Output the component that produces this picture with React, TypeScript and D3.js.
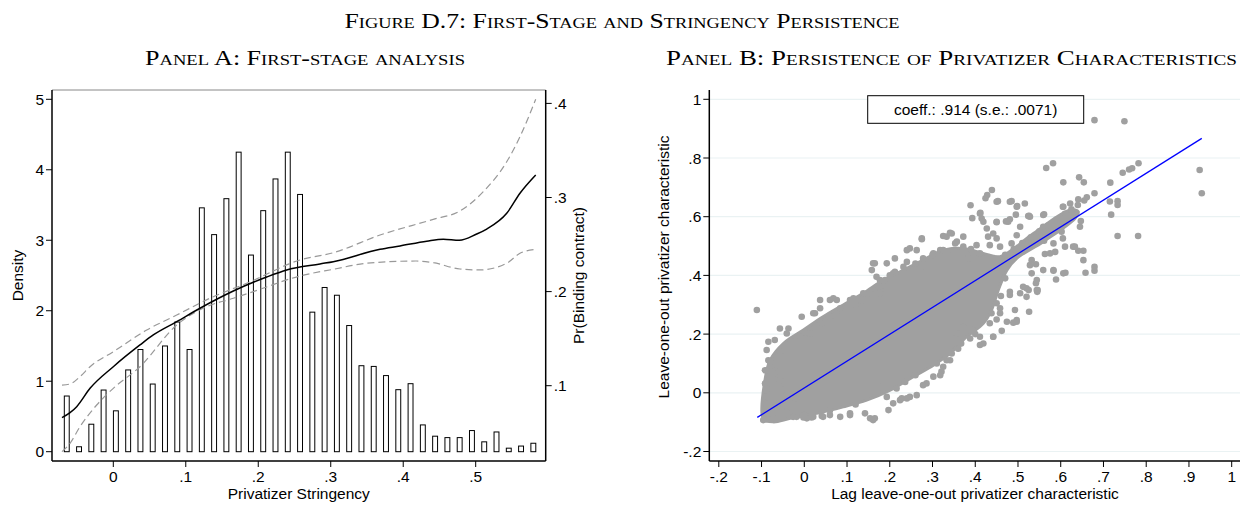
import React from "react";
import * as d3 from "d3";

// ---------- Panel A data ----------
const binStart = -0.0642;
const binStep = 0.01694;
const densityValues = [
  0.79, 0.07, 0.39, 0.875, 0.58, 1.16, 1.45, 0.96, 1.5, 1.84, 1.45, 3.46, 3.08,
  3.59, 4.25, 2.79, 3.42, 3.87, 4.25, 3.65, 1.98, 2.33, 2.22, 1.79, 1.22, 1.21,
  1.08, 0.88, 0.965, 0.38, 0.22, 0.2, 0.2, 0.3, 0.14, 0.28, 0.05, 0.08, 0.12,
];
const binCenters = densityValues.map((_, i) => binStart + i * binStep);

const fitPoints: [number, number][] = [
  [-0.0708, 0.066], [-0.0597, 0.0713], [-0.0505, 0.0777], [-0.0321, 0.0972],
  [0, 0.1202], [0.0368, 0.1433], [0.0552, 0.1539], [0.0875, 0.168],
  [0.1196, 0.1823], [0.1656, 0.2006], [0.2116, 0.2155], [0.2392, 0.223],
  [0.2852, 0.2294], [0.3035, 0.2318], [0.368, 0.245], [0.3956, 0.2485],
  [0.4324, 0.2535], [0.4553, 0.2556], [0.4774, 0.2545], [0.5014, 0.2612],
  [0.5152, 0.2665], [0.5428, 0.2832], [0.5611, 0.3045], [0.5828, 0.3239],
];
const upperCI: [number, number][] = [
  [-0.0708, 0.1007], [-0.0597, 0.1018], [-0.046, 0.1096], [-0.0321, 0.1202],
  [0, 0.1361], [0.0461, 0.1592], [0.0875, 0.1751], [0.138, 0.1946],
  [0.184, 0.2088], [0.2576, 0.2336], [0.3035, 0.2413], [0.368, 0.2601],
  [0.4415, 0.2768], [0.4783, 0.2857], [0.5105, 0.3062], [0.5428, 0.338],
  [0.5611, 0.3646], [0.5828, 0.4044],
];
const lowerCI: [number, number][] = [
  [-0.0708, 0.0299], [-0.0597, 0.0388], [-0.046, 0.0564], [-0.0229, 0.0795],
  [0, 0.0972], [0.0368, 0.1202], [0.0875, 0.1645], [0.1289, 0.184],
  [0.1656, 0.1929], [0.1932, 0.2], [0.2576, 0.2166], [0.3035, 0.2237],
  [0.3494, 0.2301], [0.4184, 0.2325], [0.4415, 0.2307], [0.4783, 0.224],
  [0.5059, 0.223], [0.5428, 0.2301], [0.5611, 0.2407], [0.5828, 0.2449],
];
const aXTicks = [0, 0.1, 0.2, 0.3, 0.4, 0.5];
const aXTickLabels = ["0", ".1", ".2", ".3", ".4", ".5"];
const aYTicks = [0, 1, 2, 3, 4, 5];
const aYTickLabels = ["0", "1", "2", "3", "4", "5"];
const aY2Ticks = [0.1, 0.2, 0.3, 0.4];
const aY2TickLabels = [".1", ".2", ".3", ".4"];

// ---------- Panel B data ----------
const regIntercept = 0.0167;
const regSlope = 0.914;
const regXRange = [-0.11, 0.93];
const bXTicks = [-0.2, -0.1, 0, 0.1, 0.2, 0.3, 0.4, 0.5, 0.6, 0.7, 0.8, 0.9, 1];
const bXTickLabels = ["-.2", "-.1", "0", ".1", ".2", ".3", ".4", ".5", ".6", ".7", ".8", ".9", "1"];
const bYTicks = [-0.2, 0, 0.2, 0.4, 0.6, 0.8, 1];
const bYTickLabels = ["-.2", "0", ".2", ".4", ".6", ".8", "1"];

// dense core of the scatter cloud (outline)
const coreOutline: [number, number][] = [
  [-0.096, -0.087], [-0.092, 0.043], [-0.08, 0.111], [-0.049, 0.168],
  [-0.002, 0.214], [0.044, 0.259], [0.091, 0.299], [0.138, 0.339],
  [0.185, 0.384], [0.232, 0.418], [0.278, 0.452], [0.325, 0.486],
  [0.372, 0.492], [0.419, 0.475], [0.458, 0.464], [0.536, 0.543],
  [0.622, 0.623], [0.641, 0.617], [0.633, 0.594], [0.559, 0.515],
  [0.497, 0.458], [0.474, 0.418], [0.454, 0.35], [0.438, 0.282],
  [0.419, 0.237], [0.38, 0.191], [0.341, 0.134], [0.302, 0.094],
  [0.255, 0.055], [0.201, 0.009], [0.146, -0.025], [0.091, -0.048],
  [0.029, -0.07], [-0.033, -0.087], [-0.073, -0.099],
];

const scatterPoints: [number, number][] = [
  [0.679, 0.929], [0.749, 0.925], [0.566, 0.766], [0.582, 0.782], [0.745, 0.75],
  [0.76, 0.761], [0.767, 0.765], [0.782, 0.782], [0.925, 0.759], [0.93, 0.68],
  [0.606, 0.717], [0.643, 0.734], [0.654, 0.717], [0.716, 0.716], [0.679, 0.68],
  [0.715, 0.652], [0.733, 0.653], [0.733, 0.64], [0.718, 0.607], [0.733, 0.534],
  [0.781, 0.534], [0.439, 0.691], [0.428, 0.674], [0.424, 0.663], [0.389, 0.639],
  [0.453, 0.653], [0.485, 0.653], [0.498, 0.636], [0.516, 0.645], [0.561, 0.608],
  [0.526, 0.603], [0.495, 0.607], [0.412, 0.613], [0.393, 0.595], [0.415, 0.594],
  [0.45, 0.581], [0.472, 0.584], [0.481, 0.591], [0.505, 0.566], [0.605, 0.634],
  [0.622, 0.645], [0.641, 0.659], [0.661, 0.666], [0.559, 0.566], [0.583, 0.583],
  [0.645, 0.566], [0.647, 0.585], [0.602, 0.549], [0.605, 0.526], [0.561, 0.518],
  [0.583, 0.509], [0.587, 0.48], [0.563, 0.473], [0.629, 0.498], [0.641, 0.484],
  [0.653, 0.484], [0.653, 0.452], [0.658, 0.409], [0.679, 0.416], [0.679, 0.429],
  [0.611, 0.409], [0.589, 0.386], [0.583, 0.416], [0.559, 0.418], [0.542, 0.438],
  [0.532, 0.452], [0.528, 0.435], [0.542, 0.373], [0.546, 0.35], [0.52, 0.356],
  [0.47, 0.47], [0.49, 0.49], [0.51, 0.51], [0.53, 0.53], [0.55, 0.55],
  [0.57, 0.57], [0.59, 0.59], [0.61, 0.61], [0.625, 0.625], [0.64, 0.64], [0.655, 0.655],
  [0.512, 0.361], [0.525, 0.35], [0.545, 0.344], [0.526, 0.276], [0.497, 0.248],
  [0.489, 0.239], [0.462, 0.211], [0.442, 0.191], [0.419, 0.168], [0.411, 0.163],
  [0.367, 0.168], [0.341, 0.111], [0.325, 0.089], [0.318, 0.06], [0.302, 0.055],
  [0.481, 0.344], [0.52, 0.327], [0.458, 0.288], [0.438, 0.271], [0.434, 0.237],
  [0.395, 0.214], [0.388, 0.185],
  [-0.111, 0.282], [-0.084, 0.174], [-0.069, 0.18], [-0.088, 0.146], [-0.084, 0.111],
  [-0.088, 0.077], [-0.087, 0.015], [-0.076, 0.094], [-0.061, 0.072], [-0.057, 0.043],
  [-0.049, 0.009], [-0.041, -0.008], [-0.022, -0.019], [-0.018, -0.082], [0.006, -0.087],
  [0.021, -0.082], [0.041, -0.079], [0.06, -0.076], [0.084, -0.082], [0.107, -0.076],
  [0.154, -0.087], [0.161, -0.093], [0.193, -0.014], [0.224, -0.025], [0.24, -0.019],
  [0.263, -0.008], [0.286, 0.032], [0.333, 0.111], [-0.096, -0.093], [-0.088, -0.091],
  [-0.073, -0.087], [-0.041, -0.065], [-0.057, 0.219], [-0.041, 0.202], [-0.01, 0.191],
  [0.006, 0.202], [-0.006, 0.259], [0.021, 0.271], [0.037, 0.288], [0.06, 0.316],
  [0.076, 0.316], [0.084, 0.282], [0.115, 0.322], [0.13, 0.316], [0.154, 0.339],
  [0.177, 0.361],
  [0.161, 0.441], [0.193, 0.441], [0.247, 0.492], [0.275, 0.526], [0.302, 0.475],
  [0.318, 0.486], [0.333, 0.532], [0.345, 0.543], [0.177, 0.384], [0.208, 0.407],
  [0.232, 0.429], [0.325, 0.534], [0.341, 0.545], [0.372, 0.532], [0.353, 0.509],
  [0.325, 0.486], [0.372, 0.498], [0.403, 0.503], [0.411, 0.475], [0.43, 0.532],
  [0.442, 0.543], [0.458, 0.498], [0.384, 0.458], [0.427, 0.56], [0.45, 0.526],
  [0.485, 0.509], [0.497, 0.537], [0.528, 0.6],
  [0.45, 0.651], [0.411, 0.611], [0.419, 0.583], [0.45, 0.583], [0.481, 0.651],
  [0.497, 0.634], [0.524, 0.602], [0.477, 0.583], [0.559, 0.606], [0.606, 0.634],
  [0.275, 0.523], [0.24, 0.486], [0.263, 0.486], [0.357, 0.515], [0.349, 0.486],
  [0.434, 0.503], [0.212, 0.458], [0.165, 0.441], [0.158, 0.418], [0.169, 0.395],
  [0.189, 0.384], [0.212, 0.412], [0.24, 0.446], [0.278, 0.458], [0.286, 0.429],
  [0.107, 0.316], [0.138, 0.339], [0.142, 0.316], [0.177, 0.339], [0.037, 0.316],
  [0.068, 0.322], [0.025, 0.271], [0.06, 0.259], [0.084, 0.288], [-0.037, 0.219],
  [0.013, 0.202], [0.041, 0.237], [-0.08, 0.106], [-0.092, 0.077], [-0.073, 0.066],
  [-0.092, 0.032], [-0.065, 0.02], [-0.088, -0.014], [-0.057, 0.14],
  [-0.026, -0.082], [-0.002, -0.084], [0.017, -0.084], [0.044, -0.082], [0.107, -0.07],
  [0.142, -0.07], [0.165, -0.087], [0.197, -0.059], [0.208, -0.036], [0.228, -0.019],
  [0.247, -0.014], [0.216, 0.015], [0.236, 0.037], [0.278, 0.026], [0.321, 0.072],
  [0.345, 0.134], [0.364, 0.168], [0.411, 0.191], [0.442, 0.191], [0.474, 0.242],
  [0.497, 0.242], [0.493, 0.282], [0.505, 0.339], [0.544, 0.384], [0.544, 0.35],
  [0.532, 0.407], [0.575, 0.475], [0.583, 0.418], [0.606, 0.407], [0.61, 0.498],
  [0.633, 0.498], [0.372, 0.225], [0.357, 0.202], [0.45, 0.305], [0.458, 0.271],
  [0.481, 0.333],
  [0.1, 0.26], [0.12, 0.3], [0.2, 0.4], [0.26, 0.44], [0.3, 0.47], [0.39, 0.49],
  [0.46, 0.44], [0.47, 0.39], [0.46, 0.33], [0.45, 0.25], [0.4, 0.2], [0.36, 0.15],
  [0.31, 0.1], [0.26, 0.06], [0.18, 0.02], [0.12, -0.04], [0.06, -0.06], [0.0, -0.075],
];

const SANS = "'Liberation Sans', Arial, sans-serif";
const SERIF = "'Liberation Serif', 'Times New Roman', serif";
const FS = 15.5;
const GRAY = "#a0a0a0";

export default function App() {
  // Panel A scales
  const ax = d3.scaleLinear().domain([0, 0.5]).range([113.3, 475.7]);
  const ay = d3.scaleLinear().domain([0, 5]).range([451.7, 99.3]);
  const ay2 = d3.scaleLinear().domain([0, 0.4]).range([479.8, 103.4]);
  const aLeft = 52, aRight = 545.7, aTop = 90, aBottom = 461;
  const barW = ax(binStep) - ax(0);
  const line2 = d3
    .line<[number, number]>()
    .x((d) => ax(d[0]))
    .y((d) => ay2(d[1]))
    .curve(d3.curveMonotoneX);

  // Panel B scales
  const bx = d3.scaleLinear().domain([-0.2, 1]).range([718.8, 1231.7]);
  const by = d3.scaleLinear().domain([-0.2, 1]).range([451.5, 99.3]);
  const bLeft = 709.3, bRight = 1240, bTop = 90, bBottom = 461;
  const corePath = d3
    .line<[number, number]>()
    .x((d) => bx(d[0]))
    .y((d) => by(d[1]))
    .curve(d3.curveCatmullRomClosed.alpha(0.5))(coreOutline) as string;

  const titleStyle = { fontVariant: "small-caps" as const };

  return (
    <svg
      width={1245}
      height={515}
      style={{ position: "absolute", left: 0, top: 0, background: "#fff" }}
    >
      <rect x={0} y={0} width={1245} height={515} fill="#fff" />
      {/* Titles */}
      <text
        x={622}
        y={28}
        textAnchor="middle"
        fontFamily={SERIF}
        fontSize={21}
        style={titleStyle}
        textLength={555}
        lengthAdjust="spacingAndGlyphs"
      >
        Figure D.7: First-Stage and Stringency Persistence
      </text>
      <text
        x={305}
        y={65}
        textAnchor="middle"
        fontFamily={SERIF}
        fontSize={21}
        style={titleStyle}
        textLength={320}
        lengthAdjust="spacingAndGlyphs"
      >
        Panel A: First-stage analysis
      </text>
      <text
        x={951.5}
        y={65}
        textAnchor="middle"
        fontFamily={SERIF}
        fontSize={21}
        style={titleStyle}
        textLength={571}
        lengthAdjust="spacingAndGlyphs"
      >
        Panel B: Persistence of Privatizer Characteristics
      </text>

      {/* ---------- Panel A ---------- */}
      <g>
        {densityValues.map((v, i) => (
          <rect
            key={i}
            x={ax(binCenters[i]) - barW * 0.2}
            y={ay(v)}
            width={barW * 0.4}
            height={ay(0) - ay(v)}
            fill="#fff"
            stroke="#000"
            strokeWidth={1}
          />
        ))}
        <path d={line2(upperCI) as string} fill="none" stroke="#999" strokeWidth={1.2} strokeDasharray="7,4" />
        <path d={line2(lowerCI) as string} fill="none" stroke="#999" strokeWidth={1.2} strokeDasharray="7,4" />
        <path d={line2(fitPoints) as string} fill="none" stroke="#000" strokeWidth={1.5} />

        {/* frame */}
        <line x1={aLeft} x2={aRight} y1={aTop} y2={aTop} stroke="#888" strokeWidth={1} />
        <line x1={aLeft} x2={aLeft} y1={aTop} y2={aBottom} stroke="#000" strokeWidth={1.5} />
        <line x1={aRight} x2={aRight} y1={aTop} y2={aBottom} stroke="#000" strokeWidth={1.5} />
        <line x1={aLeft} x2={aRight} y1={aBottom} y2={aBottom} stroke="#000" strokeWidth={1.5} />

        {aYTicks.map((t, i) => (
          <g key={i}>
            <line x1={aLeft - 6} x2={aLeft} y1={ay(t)} y2={ay(t)} stroke="#000" strokeWidth={1} />
            <text x={aLeft - 8} y={ay(t) + 5.5} textAnchor="end" fontFamily={SANS} fontSize={FS}>
              {aYTickLabels[i]}
            </text>
          </g>
        ))}
        {aY2Ticks.map((t, i) => (
          <g key={i}>
            <line x1={aRight} x2={aRight + 6} y1={ay2(t)} y2={ay2(t)} stroke="#000" strokeWidth={1} />
            <text x={aRight + 8} y={ay2(t) + 5.5} textAnchor="start" fontFamily={SANS} fontSize={FS}>
              {aY2TickLabels[i]}
            </text>
          </g>
        ))}
        {aXTicks.map((t, i) => (
          <g key={i}>
            <line x1={ax(t)} x2={ax(t)} y1={aBottom} y2={aBottom + 6} stroke="#000" strokeWidth={1} />
            <text x={ax(t)} y={481.7} textAnchor="middle" fontFamily={SANS} fontSize={FS}>
              {aXTickLabels[i]}
            </text>
          </g>
        ))}
        <text x={298.8} y={499} textAnchor="middle" fontFamily={SANS} fontSize={FS}>
          Privatizer Stringency
        </text>
        <text
          transform={`translate(23,275.5) rotate(-90)`}
          textAnchor="middle"
          fontFamily={SANS}
          fontSize={FS}
        >
          Density
        </text>
        <text
          transform={`translate(584,275.5) rotate(-90)`}
          textAnchor="middle"
          fontFamily={SANS}
          fontSize={FS}
        >
          Pr(Binding contract)
        </text>
      </g>

      {/* ---------- Panel B ---------- */}
      <g>
        {bYTicks.map((t, i) => (
          <line key={i} x1={bLeft} x2={bRight} y1={by(t)} y2={by(t)} stroke="#eaf2f3" strokeWidth={1.2} />
        ))}
        <path d={corePath} fill={GRAY} stroke={GRAY} strokeWidth={3} strokeLinejoin="round" />
        {scatterPoints.map((p, i) => (
          <circle key={i} cx={bx(p[0])} cy={by(p[1])} r={3.3} fill={GRAY} />
        ))}
        <line
          x1={bx(regXRange[0])}
          y1={by(regIntercept + regSlope * regXRange[0])}
          x2={bx(regXRange[1])}
          y2={by(regIntercept + regSlope * regXRange[1])}
          stroke="#0000ff"
          strokeWidth={1.3}
        />
        <rect x={867.7} y={95.7} width={216} height={27.6} fill="#fff" stroke="#000" strokeWidth={1} />
        <text x={975.7} y={115} textAnchor="middle" fontFamily={SANS} fontSize={FS}>
          coeff.: .914 (s.e.: .0071)
        </text>

        <line x1={bLeft} x2={bLeft} y1={bTop} y2={bBottom} stroke="#000" strokeWidth={1.5} />
        <line x1={bLeft} x2={bRight} y1={bBottom} y2={bBottom} stroke="#000" strokeWidth={1.5} />
        {bYTicks.map((t, i) => (
          <g key={i}>
            <line x1={bLeft - 6} x2={bLeft} y1={by(t)} y2={by(t)} stroke="#000" strokeWidth={1} />
            <text x={bLeft - 8} y={by(t) + 5.5} textAnchor="end" fontFamily={SANS} fontSize={FS}>
              {bYTickLabels[i]}
            </text>
          </g>
        ))}
        {bXTicks.map((t, i) => (
          <g key={i}>
            <line x1={bx(t)} x2={bx(t)} y1={bBottom} y2={bBottom + 6} stroke="#000" strokeWidth={1} />
            <text x={bx(t)} y={481.7} textAnchor="middle" fontFamily={SANS} fontSize={FS}>
              {bXTickLabels[i]}
            </text>
          </g>
        ))}
        <text x={975} y={499} textAnchor="middle" fontFamily={SANS} fontSize={FS}>
          Lag leave-one-out privatizer characteristic
        </text>
        <text
          transform={`translate(669,267) rotate(-90)`}
          textAnchor="middle"
          fontFamily={SANS}
          fontSize={FS}
        >
          Leave-one-out privatizer characteristic
        </text>
      </g>
    </svg>
  );
}
